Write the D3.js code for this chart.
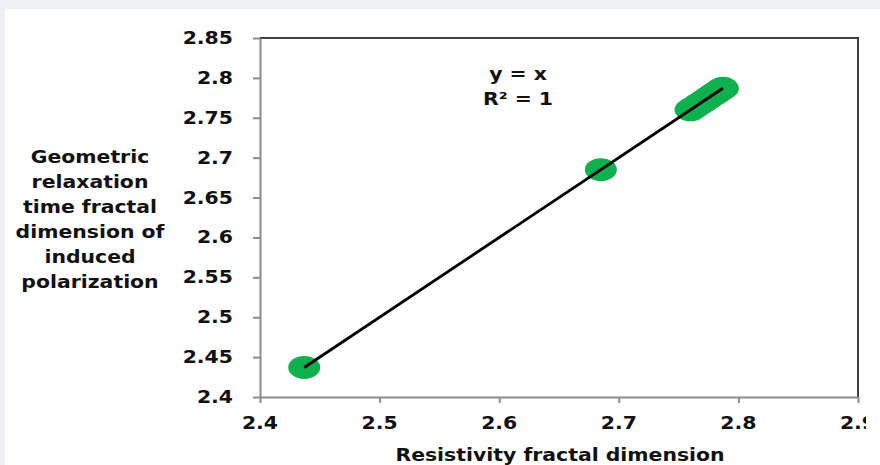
<!DOCTYPE html>
<html>
<head>
<meta charset="utf-8">
<script src="https://cdn.jsdelivr.net/npm/d3@7"></script>
<style>
  html, body { margin: 0; padding: 0; background: #eef0f3; }
  svg text { font-family: "DejaVu Sans", sans-serif; font-weight: bold; fill: #111; }
</style>
</head>
<body>
<div id="chart"></div>
<script>
(function () {
  // resistivity fractal dimension vs geometric relaxation time fractal dimension
  var resistivityDim = [2.437, 2.685, 2.760, 2.763, 2.767, 2.771, 2.775, 2.779, 2.782, 2.785, 2.787];
  var relaxationDim  = [2.437, 2.685, 2.760, 2.763, 2.767, 2.771, 2.775, 2.779, 2.782, 2.785, 2.787];

  var xTicks = [2.4, 2.5, 2.6, 2.7, 2.8, 2.9];
  var yTicks = [2.4, 2.45, 2.5, 2.55, 2.6, 2.65, 2.7, 2.75, 2.8, 2.85];
  var yTitle = ['Geometric', 'relaxation', 'time fractal', 'dimension of', 'induced', 'polarization'];
  var xTitle = 'Resistivity fractal dimension';
  var equation = ['y = x', 'R\u00b2 = 1'];

  var W = 880, H = 465;
  var stretch = 1.2;   // the source glyphs look wide

  var svg = d3.select('#chart').append('svg')
      .attr('width', W)
      .attr('height', H);

  svg.append('rect').attr('width', W).attr('height', H).attr('fill', '#eef0f3');
  svg.append('rect').attr('x', 5).attr('y', 9).attr('width', W - 5).attr('height', H - 9).attr('fill', '#fff');

  svg.append('clipPath').attr('id', 'edge')
    .append('rect').attr('x', 0).attr('y', 0).attr('width', 866).attr('height', H);

  var x = d3.scaleLinear().domain([2.4, 2.9]).range([260, 858]);
  var y = d3.scaleLinear().domain([2.4, 2.85]).range([397, 38]);

  function label(g, str, tx, ty, anchor) {
    return g.append('text')
        .attr('transform', 'translate(' + tx + ',' + ty + ') scale(' + stretch + ',1)')
        .attr('text-anchor', anchor)
        .style('font-size', '17px')
        .text(str);
  }

  // frame: top and right dark
  svg.append('path')
      .attr('d', 'M' + x(2.4) + ',' + y(2.85) + 'H' + x(2.9) + 'V' + y(2.4))
      .attr('fill', 'none')
      .attr('stroke', '#404040')
      .attr('stroke-width', 2);

  // axes (lines and ticks only)
  var yAxis = svg.append('g')
      .attr('transform', 'translate(' + x(2.4) + ',0)')
      .call(d3.axisLeft(y).tickValues(yTicks).tickSize(7).tickSizeOuter(0).tickFormat(''));
  var xAxis = svg.append('g')
      .attr('transform', 'translate(0,' + y(2.4) + ')')
      .call(d3.axisBottom(x).tickValues(xTicks).tickSize(6).tickSizeOuter(0).tickFormat(''));
  [yAxis, xAxis].forEach(function (a) {
    a.selectAll('path, line').attr('stroke', '#8c8c8c').attr('stroke-width', 2);
  });

  // tick labels
  var labels = svg.append('g');
  yTicks.forEach(function (t) {
    label(labels, d3.format('')(t), 233, y(t) + 6, 'end');
  });
  var xl = svg.append('g').attr('clip-path', 'url(#edge)');
  xTicks.forEach(function (t) {
    label(xl, d3.format('.1f')(t), x(t), 429, 'middle');
  });

  // titles
  label(labels, xTitle, 560, 461, 'middle');
  yTitle.forEach(function (s, i) {
    label(labels, s, 90, 163 + i * 25, 'middle');
  });
  equation.forEach(function (s, i) {
    label(labels, s, 518, 80 + i * 25, 'middle');
  });

  // points
  var pts = resistivityDim.map(function (v, i) { return [v, relaxationDim[i]]; });
  svg.append('g').selectAll('ellipse')
      .data(pts)
      .enter().append('ellipse')
      .attr('cx', function (d) { return x(d[0]); })
      .attr('cy', function (d) { return y(d[1]); })
      .attr('rx', 16)
      .attr('ry', 11.5)
      .attr('fill', '#0fb04e');

  // trend line y = x across the data range
  var lo = d3.min(resistivityDim), hi = d3.max(resistivityDim);
  svg.append('path')
      .datum([lo, hi])
      .attr('d', d3.line().x(function (d) { return x(d); }).y(function (d) { return y(d); }))
      .attr('stroke', '#000')
      .attr('stroke-width', 2.8)
      .attr('fill', 'none');
}());
</script>
</body>
</html>
